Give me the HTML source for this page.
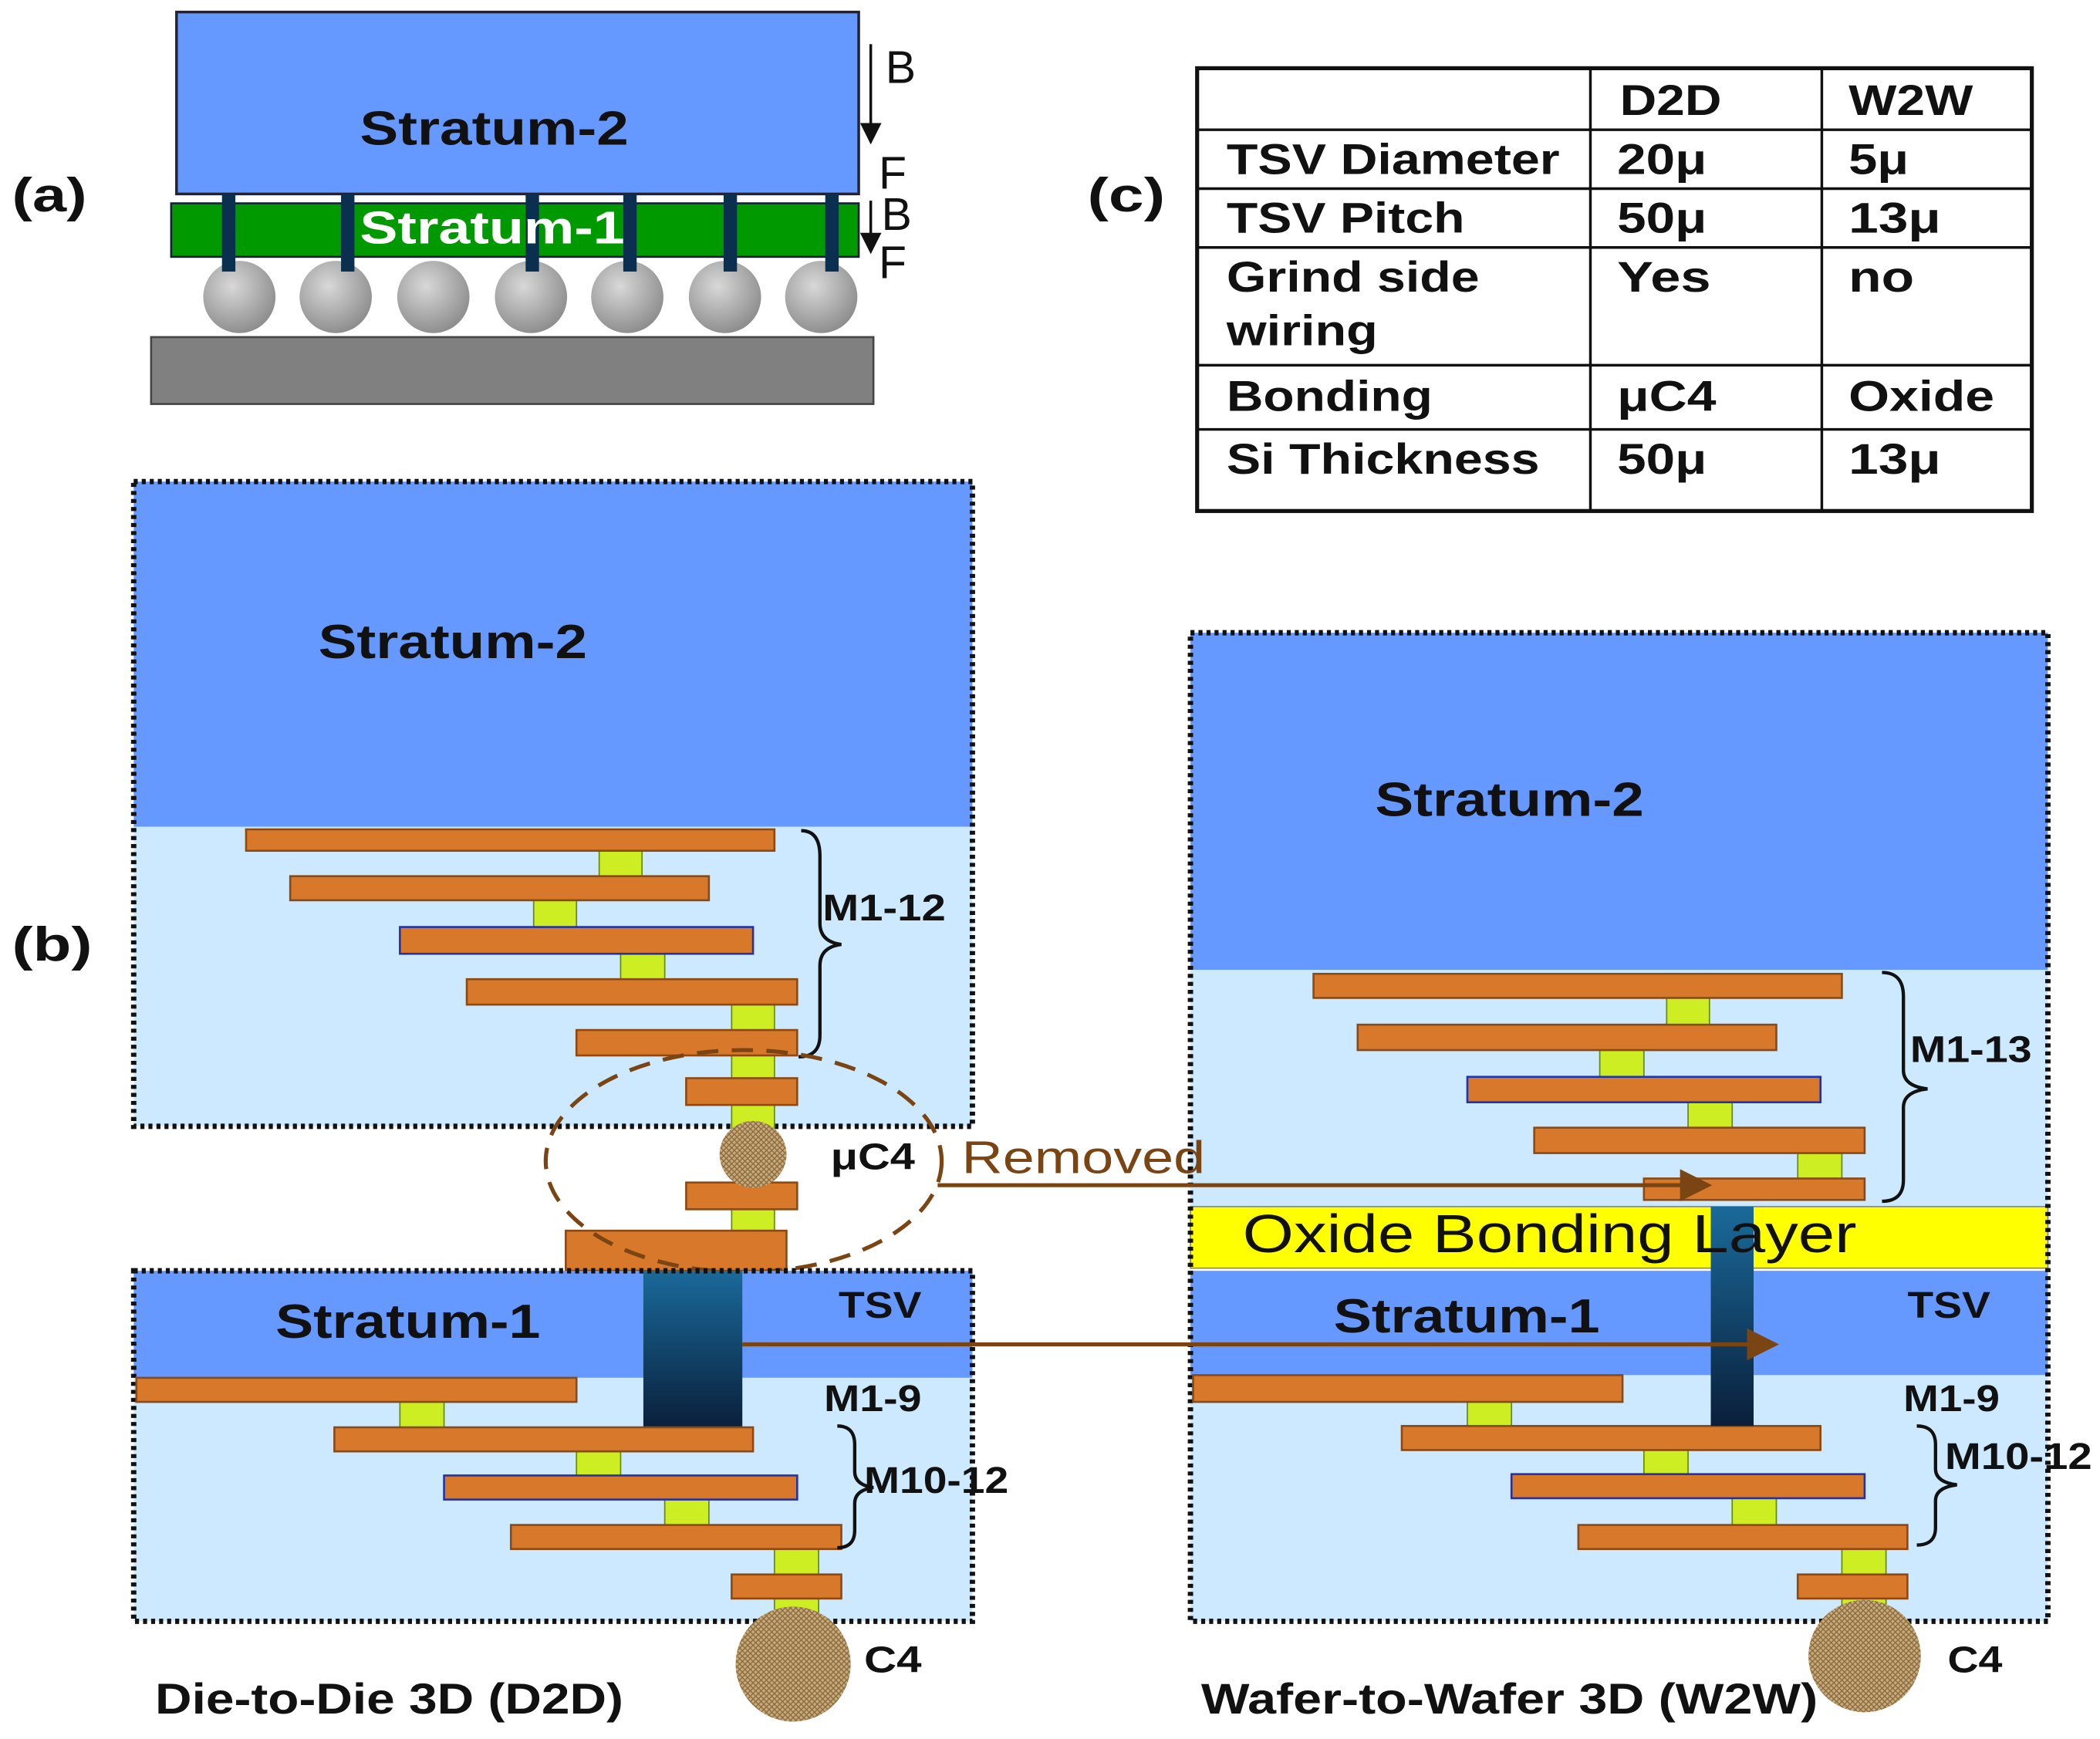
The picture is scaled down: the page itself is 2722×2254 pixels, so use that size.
<!DOCTYPE html>
<html><head><meta charset="utf-8">
<style>
html,body{margin:0;padding:0;background:#fff;}
svg{display:block;}
text{font-family:"Liberation Sans",Arial,sans-serif;font-weight:bold;fill:#111;}
</style></head>
<body>
<svg width="2722" height="2254" viewBox="0 0 1568 1300" xmlns="http://www.w3.org/2000/svg">
<defs>
<pattern id="mesh" width="4" height="4" patternUnits="userSpaceOnUse">
<rect width="4" height="4" fill="#c9ab7a"/>
<path d="M0 0L4 4M4 0L0 4" stroke="#8a6a40" stroke-width="0.8"/>
</pattern>
<radialGradient id="ball" cx="40%" cy="35%" r="70%">
<stop offset="0" stop-color="#d8d8d8"/><stop offset="1" stop-color="#8a8a8a"/>
</radialGradient>
<linearGradient id="tsv" x1="0" y1="0" x2="0" y2="1">
<stop offset="0" stop-color="#1a6a9a"/><stop offset="1" stop-color="#0a1f3a"/>
</linearGradient>
<marker id="ah" markerWidth="8" markerHeight="8" refX="7" refY="4" orient="auto">
<path d="M0 0L8 4L0 8z" fill="#7a4512"/></marker>
<marker id="ak" markerWidth="8" markerHeight="8" refX="7" refY="4" orient="auto">
<path d="M0 0L8 4L0 8z" fill="#111"/></marker>
</defs>

<!-- (a) -->
<text x="8" y="158" font-size="36" textLength="56" lengthAdjust="spacingAndGlyphs">(a)</text>
<rect x="131" y="9" width="510" height="136" fill="#6699ff" stroke="#223" stroke-width="2"/>
<text x="268" y="108" font-size="36" textLength="201" lengthAdjust="spacingAndGlyphs">Stratum-2</text>
<rect x="127" y="152" width="514" height="40" fill="#009900" stroke="#123" stroke-width="1.5"/>
<g fill="url(#ball)">
<circle cx="178" cy="222" r="27"/><circle cx="250" cy="222" r="27"/><circle cx="323" cy="222" r="27"/>
<circle cx="396" cy="222" r="27"/><circle cx="468" cy="222" r="27"/><circle cx="541" cy="222" r="27"/><circle cx="613" cy="222" r="27"/>
</g>
<g fill="#0b2f4f">
<rect x="165" y="145" width="10" height="58"/><rect x="254" y="145" width="10" height="58"/>
<rect x="392" y="145" width="10" height="58"/><rect x="465" y="145" width="10" height="58"/>
<rect x="540" y="145" width="10" height="58"/><rect x="616" y="145" width="10" height="58"/>
</g>
<text x="268" y="182" font-size="34" textLength="198" lengthAdjust="spacingAndGlyphs" style="fill:#fff">Stratum-1</text>
<rect x="112" y="252" width="540" height="50" fill="#808080" stroke="#444" stroke-width="1.5"/>
<line x1="650" y1="33" x2="650" y2="106" stroke="#111" stroke-width="2" marker-end="url(#ak)"/>
<line x1="650" y1="150" x2="650" y2="188" stroke="#111" stroke-width="2" marker-end="url(#ak)"/>
<text x="661" y="62" font-size="34" style="font-weight:normal">B</text>
<text x="656" y="141" font-size="34" style="font-weight:normal">F</text>
<text x="658" y="172" font-size="34" style="font-weight:normal">B</text>
<text x="656" y="208" font-size="34" style="font-weight:normal">F</text>

<!-- (c) table -->
<text x="812" y="158" font-size="36" textLength="58" lengthAdjust="spacingAndGlyphs">(c)</text>
<g stroke="#111" fill="none">
<rect x="894" y="51" width="624" height="331" stroke-width="3"/>
<line x1="1188" y1="51" x2="1188" y2="382" stroke-width="2"/>
<line x1="1361" y1="51" x2="1361" y2="382" stroke-width="2"/>
<line x1="894" y1="97" x2="1518" y2="97" stroke-width="2"/>
<line x1="894" y1="141" x2="1518" y2="141" stroke-width="2"/>
<line x1="894" y1="185" x2="1518" y2="185" stroke-width="2"/>
<line x1="894" y1="273" x2="1518" y2="273" stroke-width="2"/>
<line x1="894" y1="321" x2="1518" y2="321" stroke-width="2"/>
</g>
<g font-size="32">
<text x="1210" y="86" textLength="76" lengthAdjust="spacingAndGlyphs">D2D</text><text x="1381" y="86" textLength="93" lengthAdjust="spacingAndGlyphs">W2W</text>
<text x="916" y="130" textLength="249" lengthAdjust="spacingAndGlyphs">TSV Diameter</text><text x="1208" y="130" textLength="67" lengthAdjust="spacingAndGlyphs">20μ</text><text x="1381" y="130" textLength="45" lengthAdjust="spacingAndGlyphs">5μ</text>
<text x="916" y="174" textLength="178" lengthAdjust="spacingAndGlyphs">TSV Pitch</text><text x="1208" y="174" textLength="67" lengthAdjust="spacingAndGlyphs">50μ</text><text x="1381" y="174" textLength="69" lengthAdjust="spacingAndGlyphs">13μ</text>
<text x="916" y="218" textLength="189" lengthAdjust="spacingAndGlyphs">Grind side</text><text x="916" y="258" textLength="113" lengthAdjust="spacingAndGlyphs">wiring</text><text x="1208" y="218" textLength="70" lengthAdjust="spacingAndGlyphs">Yes</text><text x="1381" y="218" textLength="49" lengthAdjust="spacingAndGlyphs">no</text>
<text x="916" y="307" textLength="154" lengthAdjust="spacingAndGlyphs">Bonding</text><text x="1208" y="307" textLength="74" lengthAdjust="spacingAndGlyphs">μC4</text><text x="1381" y="307" textLength="109" lengthAdjust="spacingAndGlyphs">Oxide</text>
<text x="916" y="354" textLength="234" lengthAdjust="spacingAndGlyphs">Si Thickness</text><text x="1208" y="354" textLength="67" lengthAdjust="spacingAndGlyphs">50μ</text><text x="1381" y="354" textLength="69" lengthAdjust="spacingAndGlyphs">13μ</text>
</g>

<!-- (b) -->
<text x="8" y="718" font-size="36" textLength="60" lengthAdjust="spacingAndGlyphs">(b)</text>

<!-- D2D top -->
<rect x="99" y="360" width="627" height="258" fill="#6699ff"/>
<rect x="99" y="618" width="627" height="224" fill="#cce9ff"/>
<rect x="99" y="360" width="627" height="482" fill="none" stroke="#111" stroke-width="4" stroke-dasharray="3,3"/>
<text x="237" y="492" font-size="36" textLength="201" lengthAdjust="spacingAndGlyphs">Stratum-2</text>
<g fill="#ccee22" stroke="#6a8a10" stroke-width="1">
<rect x="447" y="636" width="32" height="19"/><rect x="398" y="673" width="32" height="20"/>
<rect x="463" y="713" width="33" height="19"/><rect x="546" y="751" width="32" height="19"/>
<rect x="546" y="789" width="32" height="17"/><rect x="546" y="826" width="32" height="18"/>
<rect x="546" y="904" width="32" height="16"/>
</g>
<g fill="#d8782a" stroke="#8a4a15" stroke-width="1.5">
<rect x="183" y="620" width="395" height="16"/><rect x="216" y="655" width="313" height="18"/>
<rect x="298" y="693" width="264" height="20" stroke="#2233aa"/><rect x="348" y="732" width="247" height="19"/>
<rect x="430" y="770" width="165" height="19"/><rect x="512" y="806" width="83" height="20"/>
<rect x="512" y="884" width="83" height="20"/><rect x="422" y="920" width="165" height="30"/>
</g>
<path d="M598 621 Q612 621 612 640 L612 690 Q612 704 628 706 Q612 708 612 722 L612 774 Q612 790 596 790" fill="none" stroke="#111" stroke-width="2.5"/>
<text x="614" y="688" font-size="28" textLength="92" lengthAdjust="spacingAndGlyphs">M1-12</text>
<circle cx="562" cy="863" r="25" fill="url(#mesh)"/>
<text x="620" y="874" font-size="28" textLength="63" lengthAdjust="spacingAndGlyphs">μC4</text>
<ellipse cx="555" cy="868" rx="148" ry="83" fill="none" stroke="#7a4512" stroke-width="3" stroke-dasharray="16,10"/>

<!-- D2D bottom -->
<rect x="99" y="950" width="627" height="80" fill="#6699ff"/>
<rect x="99" y="1030" width="627" height="182" fill="#cce9ff"/>
<rect x="480" y="950" width="74" height="118" fill="url(#tsv)"/>
<rect x="99" y="950" width="627" height="262" fill="none" stroke="#111" stroke-width="4" stroke-dasharray="3,3"/>
<text x="205" y="1000" font-size="36" textLength="198" lengthAdjust="spacingAndGlyphs">Stratum-1</text>
<text x="626" y="985" font-size="28" textLength="62" lengthAdjust="spacingAndGlyphs">TSV</text>
<g fill="#ccee22" stroke="#6a8a10" stroke-width="1">
<rect x="298" y="1048" width="33" height="19"/><rect x="430" y="1085" width="33" height="18"/>
<rect x="496" y="1121" width="33" height="19"/><rect x="578" y="1158" width="33" height="19"/>
<rect x="578" y="1195" width="33" height="17"/>
</g>
<g fill="#d8782a" stroke="#8a4a15" stroke-width="1.5">
<rect x="101" y="1030" width="329" height="18"/><rect x="249" y="1067" width="313" height="18"/>
<rect x="331" y="1103" width="264" height="18" stroke="#2233aa"/><rect x="381" y="1140" width="247" height="18"/>
<rect x="546" y="1177" width="82" height="18"/>
</g>
<text x="615" y="1055" font-size="28" textLength="73" lengthAdjust="spacingAndGlyphs">M1-9</text>
<path d="M625 1066 Q638 1066 638 1080 L638 1100 Q638 1110 652 1112 Q638 1114 638 1124 L638 1144 Q638 1157 625 1157" fill="none" stroke="#111" stroke-width="2.5"/>
<text x="645" y="1116" font-size="28" textLength="108" lengthAdjust="spacingAndGlyphs">M10-12</text>
<circle cx="592" cy="1244" r="43" fill="url(#mesh)"/>
<text x="645" y="1250" font-size="28" textLength="43" lengthAdjust="spacingAndGlyphs">C4</text>
<text x="115" y="1281" font-size="32" textLength="350" lengthAdjust="spacingAndGlyphs">Die-to-Die 3D (D2D)</text>

<!-- W2W -->
<rect x="889" y="473" width="641" height="252" fill="#6699ff"/>
<rect x="889" y="725" width="641" height="177" fill="#cce9ff"/>
<rect x="889" y="902" width="641" height="46" fill="#ffff00" stroke="#888" stroke-width="1"/>
<rect x="889" y="950" width="641" height="78" fill="#6699ff"/>
<rect x="889" y="1028" width="641" height="184" fill="#cce9ff"/>
<rect x="889" y="473" width="641" height="739" fill="none" stroke="#111" stroke-width="4" stroke-dasharray="3,3"/>
<text x="1027" y="610" font-size="36" textLength="201" lengthAdjust="spacingAndGlyphs">Stratum-2</text>
<g fill="#ccee22" stroke="#6a8a10" stroke-width="1">
<rect x="1245" y="746" width="32" height="20"/><rect x="1195" y="785" width="33" height="20"/>
<rect x="1261" y="824" width="33" height="19"/><rect x="1343" y="862" width="33" height="19"/>
<rect x="1096" y="1048" width="33" height="18"/><rect x="1228" y="1084" width="33" height="18"/>
<rect x="1294" y="1120" width="33" height="20"/><rect x="1376" y="1158" width="33" height="19"/>
<rect x="1376" y="1195" width="33" height="17"/>
</g>
<g fill="#d8782a" stroke="#8a4a15" stroke-width="1.5">
<rect x="981" y="728" width="395" height="18"/><rect x="1014" y="766" width="313" height="19"/>
<rect x="1096" y="805" width="264" height="19" stroke="#2233aa"/><rect x="1146" y="843" width="247" height="19"/>
<rect x="1228" y="881" width="165" height="16"/>
<rect x="891" y="1028" width="321" height="20"/><rect x="1047" y="1066" width="313" height="18"/>
<rect x="1129" y="1102" width="264" height="18" stroke="#2233aa"/><rect x="1179" y="1140" width="246" height="18"/>
<rect x="1343" y="1177" width="82" height="18"/>
</g>
<rect x="1278" y="902" width="32" height="164" fill="url(#tsv)"/>
<text x="928" y="936" font-size="40" textLength="459" lengthAdjust="spacingAndGlyphs" style="font-weight:normal">Oxide Bonding Layer</text>
<text x="996" y="996" font-size="36" textLength="199" lengthAdjust="spacingAndGlyphs">Stratum-1</text>
<text x="1425" y="985" font-size="28" textLength="62" lengthAdjust="spacingAndGlyphs">TSV</text>
<path d="M1406 727 Q1422 727 1422 745 L1422 800 Q1422 812 1440 814 Q1422 816 1422 828 L1422 882 Q1422 898 1406 898" fill="none" stroke="#111" stroke-width="2.5"/>
<text x="1427" y="794" font-size="28" textLength="91" lengthAdjust="spacingAndGlyphs">M1-13</text>
<text x="1422" y="1055" font-size="28" textLength="72" lengthAdjust="spacingAndGlyphs">M1-9</text>
<path d="M1432 1066 Q1446 1066 1446 1080 L1446 1098 Q1446 1108 1462 1110 Q1446 1112 1446 1122 L1446 1142 Q1446 1155 1432 1155" fill="none" stroke="#111" stroke-width="2.5"/>
<text x="1453" y="1098" font-size="28" textLength="110" lengthAdjust="spacingAndGlyphs">M10-12</text>
<circle cx="1393" cy="1238" r="42" fill="url(#mesh)"/>
<text x="1455" y="1250" font-size="28" textLength="41" lengthAdjust="spacingAndGlyphs">C4</text>
<text x="897" y="1281" font-size="32" textLength="461" lengthAdjust="spacingAndGlyphs">Wafer-to-Wafer 3D (W2W)</text>

<!-- arrows on top -->
<text x="718" y="877" font-size="34" textLength="182" lengthAdjust="spacingAndGlyphs" style="font-weight:normal;fill:#7a4512">Removed</text>
<line x1="700" y1="886" x2="1276" y2="886" stroke="#7a4512" stroke-width="3" marker-end="url(#ah)"/>
<line x1="554" y1="1005" x2="1326" y2="1005" stroke="#7a4512" stroke-width="3" marker-end="url(#ah)"/>
</svg>
</body></html>
